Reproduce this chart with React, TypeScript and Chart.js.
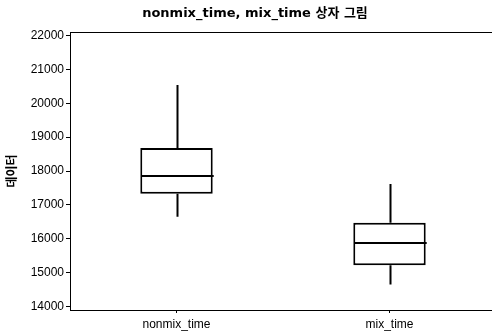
import React, { useEffect, useRef } from 'react';
import { Chart, registerables } from 'chart.js';

Chart.register(...registerables);

const categories = ['nonmix_time', 'mix_time'];
const mins = [16650, 14650];
const q1s = [17330, 15220];
const medians = [17865, 15880];
const q3s = [18675, 16470];
const maxs = [20535, 17620];
const yTicks = [14000, 15000, 16000, 17000, 18000, 19000, 20000, 21000, 22000];
const titleText = 'nonmix_time, mix_time 상자 그림';
const yTitle = '데이터';

const FONT = '"Liberation Sans", Arial, "Noto Sans CJK KR", sans-serif';
const TITLE_FONT = '"DejaVu Sans", "Noto Sans CJK KR", sans-serif';

const boxPlugin = {
  id: 'boxExtras',
  afterLayout(chart: any) {
    const xs = chart.scales.x;
    const extra = 4;
    chart.chartArea.right += extra;
    chart.chartArea.width += extra;
    xs.right += extra;
    xs.width += extra;
    xs.configure();
  },
  afterDatasetsDraw(chart: any) {
    const ctx = chart.ctx;
    const xs = chart.scales.x;
    const ys = chart.scales.y;
    const meta = chart.getDatasetMeta(0);
    ctx.save();
    ctx.strokeStyle = '#000';
    ctx.lineWidth = 2;
    categories.forEach((_, i) => {
      const bar = meta.data[i];
      const x = Math.round(xs.getPixelForValue(i)) + 0.5;
      const w = bar.width;
      const ym = Math.round(ys.getPixelForValue(medians[i]));
      ctx.beginPath();
      ctx.moveTo(x - w / 2, ym);
      ctx.lineTo(x + w / 2, ym);
      ctx.stroke();
      ctx.beginPath();
      ctx.moveTo(x, ys.getPixelForValue(q3s[i]));
      ctx.lineTo(x, ys.getPixelForValue(maxs[i]));
      ctx.moveTo(x, ys.getPixelForValue(q1s[i]));
      ctx.lineTo(x, ys.getPixelForValue(mins[i]));
      ctx.stroke();
    });
    ctx.restore();
  },
  afterDraw(chart: any) {
    const ctx = chart.ctx;
    const a = chart.chartArea;
    ctx.save();
    ctx.strokeStyle = '#000';
    ctx.lineWidth = 1;
    ctx.beginPath();
    ctx.moveTo(a.left, Math.round(a.top) + 0.5);
    ctx.lineTo(chart.width, Math.round(a.top) + 0.5);
    ctx.stroke();
    ctx.fillStyle = '#000';
    ctx.font = 'bold 13px ' + TITLE_FONT;
    ctx.textAlign = 'center';
    ctx.textBaseline = 'middle';
    ctx.fillText(titleText, 255, 14);
    ctx.restore();
  },
};

export default function App() {
  const ref = useRef<HTMLCanvasElement>(null);
  useEffect(() => {
    if (!ref.current) return;
    const chart = new Chart(ref.current, {
      type: 'bar',
      data: {
        labels: categories,
        datasets: [
          {
            data: categories.map((_, i) => [q1s[i], q3s[i]]) as any,
            backgroundColor: '#ffffff',
            borderColor: '#000000',
            borderWidth: 2,
            borderSkipped: false,
            categoryPercentage: 1,
            barPercentage: 0.34,
          },
        ],
      },
      options: {
        responsive: false,
        animation: false,
        devicePixelRatio: 1,
        layout: { padding: { top: 32, left: 0, right: 0, bottom: 0 } },
        plugins: {
          legend: { display: false },
          title: { display: false },
          tooltip: { enabled: false },
        },
        scales: {
          x: {
            type: 'category',
            offset: true,
            grid: { offset: false, drawOnChartArea: false, drawTicks: true, tickLength: 3, color: '#000' },
            border: { display: true, color: '#000', width: 1 },
            ticks: { color: '#000', padding: 4, font: { family: FONT, size: 12 } },
            afterFit(scale: any) {
              scale.height = 21;
            },
          },
          y: {
            type: 'linear',
            min: 13900,
            max: 22100,
            afterBuildTicks(scale: any) {
              scale.ticks = yTicks.map((v) => ({ value: v }));
            },
            grid: { drawOnChartArea: false, drawTicks: true, tickLength: 4, color: '#000' },
            border: { display: true, color: '#000', width: 1 },
            ticks: {
              color: '#000',
              padding: 2,
              font: { family: FONT, size: 12 },
              callback: (v: any) => String(v),
            },
            title: {
              display: true,
              text: yTitle,
              color: '#000',
              font: { family: TITLE_FONT, size: 12, weight: 'bold' },
              padding: { top: 6, bottom: 0 },
            },
            afterFit(scale: any) {
              scale.width = 70;
            },
          },
        },
      },
      plugins: [boxPlugin],
    });
    return () => chart.destroy();
  }, []);
  return (
    <div style={{ position: 'fixed', left: 0, top: 0, width: 492, height: 331, background: '#fff' }}>
      <canvas ref={ref} width={492} height={331} style={{ display: 'block' }} />
    </div>
  );
}
